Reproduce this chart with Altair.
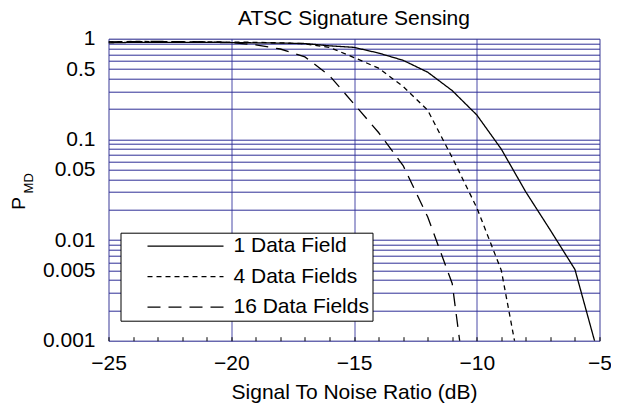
import json
import altair as alt
import pandas as pd

# ---------------- data ----------------
snr = list(range(-25, -4))  # -25 .. -5 dB

p_1_field = [0.91, 0.92, 0.92, 0.92, 0.92, 0.915, 0.91, 0.905, 0.895, 0.85,
             0.82, 0.72, 0.61, 0.465, 0.305, 0.175, 0.08, 0.03, 0.0125, 0.0051,
             0.00066]
p_4_fields = [0.93, 0.94, 0.935, 0.93, 0.93, 0.925, 0.92, 0.91, 0.89, 0.82,
              0.65, 0.51, 0.335, 0.195, 0.066, 0.021, 0.005, 0.00025, None, None,
              None]
p_16_fields = [0.93, 0.935, 0.94, 0.935, 0.93, 0.915, 0.87, 0.79, 0.66, 0.43,
               0.225, 0.117, 0.055, 0.017, 0.0037, 0.00005, None, None, None, None,
               None]

series_names = ["1 Data Field", "4 Data Fields", "16 Data Fields"]
x_label_values = [-25, -20, -15, -10, -5]
x_minor_ticks = list(range(-25, -4))
y_label_values = [1, 0.5, 0.1, 0.05, 0.01, 0.005, 0.001]
y_grid_values = [round(m * 10 ** e, 6) for e in (-3, -2, -1) for m in range(1, 10)] + [1]

title_text = ["ATSC Signature Sensing"]
x_title = "Signal To Noise Ratio (dB)"
y_title_main = ["P"]
y_title_sub = ["MD"]

rows = []
for name, vals in zip(series_names, [p_1_field, p_4_fields, p_16_fields]):
    for s, v in zip(snr, vals):
        if v is not None:
            rows.append({"snr": s, "p": v, "series": name})
df = pd.DataFrame(rows)

# ---------------- styling ----------------
FONT = "Liberation Sans"
FS = 21
W, H = 491, 302
GRID_H = "#2e2e96"
GRID_V = "#4a4aa8"

x_scale = alt.Scale(domain=[-25, -5], nice=False, zero=False)
y_scale = alt.Scale(type="log", domain=[0.001, 1], nice=False)

y_label_expr = ("indexof(" + json.dumps(y_label_values) +
                ", datum.value) >= 0 ? datum.label : ''")

lines = alt.Chart(df).mark_line(clip=True, color="black", strokeWidth=1.3).encode(
    x=alt.X("snr:Q", scale=x_scale,
            axis=alt.Axis(values=x_label_values, grid=True, gridColor=GRID_V,
                          gridWidth=1, gridOpacity=1, ticks=False, tickSize=0,
                          domain=False, labelFont=FONT, labelFontSize=FS,
                          labelColor="black", labelPadding=29,
                          labelBaseline="alphabetic", labelFlush=False,
                          labelOverlap=False,
                          title=x_title, titleFont=FONT, titleFontSize=FS,
                          titleFontWeight="normal", titleColor="black",
                          titleBaseline="alphabetic", titleY=57.5)),
    y=alt.Y("p:Q", scale=y_scale,
            axis=alt.Axis(values=y_grid_values, format="~g", labelExpr=y_label_expr,
                          grid=True, gridColor=GRID_H, gridWidth=1, gridOpacity=1,
                          ticks=False, tickSize=0, domain=False,
                          labelFont=FONT, labelFontSize=FS, labelColor="black",
                          labelPadding=13.5, labelOverlap=False, labelFlush=False,
                          title=None)),
    strokeDash=alt.StrokeDash(
        "series:N",
        scale=alt.Scale(domain=series_names, range=[[1, 0], [5, 4], [13, 8]]),
        legend=alt.Legend(orient="none", legendX=12, legendY=194,
                          direction="vertical", title=None,
                          fillColor="white", strokeColor="black",
                          padding=3, symbolType="stroke", symbolSize=5776,
                          symbolStrokeWidth=1.3, symbolStrokeColor="black",
                          symbolOffset=23, clipHeight=21, rowPadding=8.5,
                          labelFont=FONT, labelFontSize=FS, labelColor="black",
                          labelOffset=9, labelLimit=400)),
)

minor_ticks = alt.Chart(pd.DataFrame({"snr": x_minor_ticks})).mark_point(opacity=0).encode(
    x=alt.X("snr:Q", scale=x_scale,
            axis=alt.Axis(orient="bottom", offset=-4, values=x_minor_ticks,
                          ticks=True, tickSize=4, tickColor="black", tickWidth=1,
                          labels=False, domain=False, grid=False, title=None)),
)

title_mark = alt.Chart(pd.DataFrame({"t": title_text})).mark_text(
    font=FONT, fontSize=FS, align="center", baseline="alphabetic",
    color="black").encode(x=alt.value(W / 2), y=alt.value(-14.2), text="t:N")

p_text = alt.Chart(pd.DataFrame({"t": y_title_main})).mark_text(
    font=FONT, fontSize=19, angle=270, align="center", baseline="alphabetic",
    color="black").encode(x=alt.value(-83.5), y=alt.value(164.6), text="t:N")

md_text = alt.Chart(pd.DataFrame({"t": y_title_sub})).mark_text(
    font=FONT, fontSize=13, angle=270, align="center", baseline="alphabetic",
    color="black").encode(x=alt.value(-75.2), y=alt.value(144.6), text="t:N")

chart = alt.layer(lines, minor_ticks, title_mark, p_text, md_text).resolve_axis(
    x="independent"
).properties(
    width=W, height=H,
    autosize=alt.AutoSizeParams(type="none"),
    padding={"left": 100.5, "top": 30.7, "right": 11.5, "bottom": 62.3},
).configure_view(stroke="black", strokeWidth=1.3).configure(background="white")

chart.save("out.html", embed_options={"renderer": "svg", "actions": False})
